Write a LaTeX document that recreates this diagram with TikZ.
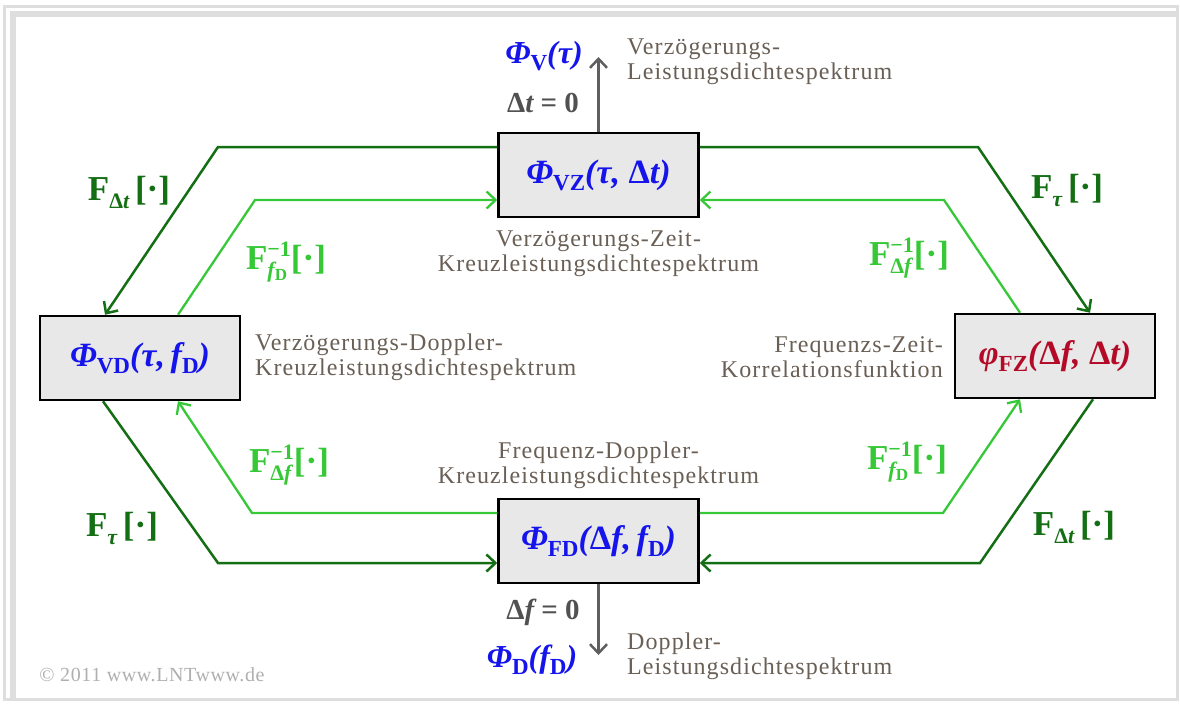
\documentclass[tikz,border=0pt]{standalone}
\usepackage{fontspec}
\setmainfont{Liberation Serif}
\usetikzlibrary{arrows.meta}
\definecolor{dkg}{RGB}{20,110,20}
\definecolor{ltg}{RGB}{55,200,55}
\definecolor{phib}{RGB}{20,20,235}
\definecolor{phir}{RGB}{180,10,40}
\definecolor{desc}{RGB}{105,95,85}
\definecolor{arrg}{RGB}{95,95,95}
\definecolor{boxf}{RGB}{232,232,232}
\definecolor{frm}{RGB}{222,222,222}
\definecolor{cpy}{RGB}{175,175,175}
\newbox\supbx \newbox\subbx
\newcommand\Lsub[1]{\raisebox{-8pt}{\fontsize{22}{22}\selectfont #1}}
\newcommand\Lsup[1]{\raisebox{13pt}{\fontsize{22}{22}\selectfont #1}}
\newcommand\Lss[2]{\setbox\supbx=\hbox{\Lsup{#1}}\setbox\subbx=\hbox{\Lsub{#2}}\ifdim\wd\supbx>\wd\subbx\relax\rlap{\box\subbx}\box\supbx\else\rlap{\box\supbx}\box\subbx\fi}
\newcommand\Dsub[1]{\raisebox{-3pt}{\fontsize{17}{17}\selectfont\upshape #1}}
\newcommand\Bsub[1]{\raisebox{-7pt}{\fontsize{23}{23}\selectfont\upshape #1}}
\tikzset{
  box/.style={draw=black, line width=2.5pt, fill=boxf, minimum width=200pt, minimum height=84pt, inner sep=0pt,
              font=\fontsize{34}{34}\selectfont\bfseries\itshape},
  dk/.style={draw=dkg, line width=2.5pt, -{Straight Barb[length=9pt,width=17pt]}},
  lt/.style={draw=ltg, line width=2.3pt, -{Straight Barb[length=9pt,width=17pt]}},
  gr/.style={draw=arrg, line width=2.5pt, -{Straight Barb[length=9pt,width=17pt]}},
  dsc/.style={text=desc, font=\fontsize{24}{25}\selectfont\addfontfeature{LetterSpace=4.5}, inner sep=0pt},
  flab/.style={font=\fontsize{35}{35}\selectfont\bfseries, inner sep=0pt},
  cond/.style={text=arrg!85!black, font=\fontsize{29}{29}\selectfont\bfseries, inner sep=0pt},
  phil/.style={text=phib, font=\fontsize{32}{32}\selectfont\bfseries\itshape, inner sep=0pt}
}
\begin{document}
\begin{tikzpicture}[x=1pt,y=-1pt]
\useasboundingbox (0,0) rectangle (1180,704);
% frame
\draw[frm, line width=3pt] (4.5,6.5) rectangle (1177.5,699.5);
\draw[frm, line width=6pt] (12.5,699) -- (12.5,13.5) -- (1177,13.5);

% boxes
\node[box, text=phib] (VZ) at (598.5,175) {Φ\Bsub{VZ}(τ, {\upshape Δ}t)};
\node[box, text=phib] (VD) at (140,358) {Φ\Bsub{VD}(τ,\,f\Bsub{D})};
\node[box, text=phir] (FZ) at (1055,356) {φ\Bsub{FZ}({\upshape Δ}f, {\upshape Δ}t)};
\node[box, text=phib] (FD) at (598.5,541) {Φ\Bsub{FD}({\upshape Δ}f,\,f\Bsub{D})};

% end points of the gray arrows
\coordinate (Vend) at (598.5,57);
\coordinate (Dend) at (598.5,655);

% dark green transforms
\draw[dk] ([yshift=28pt]VZ.west) -- (218,147) -- ([xshift=-35pt]VD.north);
\draw[dk] ([yshift=28pt]VZ.east) -- (978,147) -- ([xshift=35pt]FZ.north);
\draw[dk] ([xshift=-37pt]VD.south) -- (218,563) -- ([yshift=-22pt]FD.west);
\draw[dk] ([xshift=38pt]FZ.south) -- (980,563) -- ([yshift=-22pt]FD.east);

% light green inverse transforms
\draw[lt] ([xshift=38pt]VD.north) -- (255,200) -- ([yshift=-25pt]VZ.west);
\draw[lt] ([xshift=-35pt]FZ.north) -- (944,200) -- ([yshift=-25pt]VZ.east);
\draw[lt] ([yshift=28pt]FD.west) -- (252,513) -- ([xshift=38pt]VD.south);
\draw[lt] ([yshift=28pt]FD.east) -- (943,513) -- ([xshift=-35pt]FZ.south);

% gray arrows
\draw[gr] (VZ.north) -- (Vend);
\draw[gr] (FD.south) -- (Dend);

% labels of gray arrows
\node[phil] (PV) at (544,56) {Φ\Bsub{V}(τ)};
\node[cond] (c1) at (543,103) {Δ{\itshape t} = 0};
\node[cond] (c2) at (543,612) {Δ{\itshape f} = 0};
\node[phil] (PD) at (532,660) {Φ\Bsub{D}(f\Bsub{D})};

% descriptions
\node[dsc, anchor=west, align=left] (d1) at (627,62) {Verzögerungs-\\Leistungsdichtespektrum};
\node[dsc, align=center] (d2) at (598.5,254) {Verzögerungs-Zeit-\\Kreuzleistungsdichtespektrum};
\node[dsc, anchor=west, align=left] (d3) at (255,357) {Verzögerungs-Doppler-\\Kreuzleistungsdichtespektrum};
\node[dsc, anchor=east, align=right] (d4) at (943,357) {Frequenzs-Zeit-\\Korrelationsfunktion};
\node[dsc, align=center] (d5) at (598.5,465) {Frequenz-Doppler-\\Kreuzleistungsdichtespektrum};
\node[dsc, anchor=west, align=left] (d6) at (627,656) {Doppler-\\Leistungsdichtespektrum};

% transform labels
\node[flab, text=dkg] (l1) at (129,192) {F\Lsub{Δ\itshape t}\,[·]};
\node[flab, text=dkg] (l2) at (1067,190) {F\Lsub{\itshape τ}\,[·]};
\node[flab, text=dkg] (l3) at (122,528) {F\Lsub{\itshape τ}\,[·]};
\node[flab, text=dkg] (l4) at (1074,527) {F\Lsub{Δ\itshape t}\,[·]};
\node[flab, text=ltg] (l5) at (286,262) {F\Lss{−1}{\itshape f\Dsub{D}}[·]};
\node[flab, text=ltg] (l6) at (909,258) {F\Lss{−1}{Δ\itshape f}[·]};
\node[flab, text=ltg] (l7) at (289,465) {F\Lss{−1}{Δ\itshape f}[·]};
\node[flab, text=ltg] (l8) at (907,462) {F\Lss{−1}{\itshape f\Dsub{D}}[·]};

% copyright
\node[text=cpy, font=\fontsize{20}{20}\selectfont\addfontfeature{LetterSpace=3}, inner sep=0pt] (cp) at (152,675) {© 2011 www.LNTwww.de};
\end{tikzpicture}
\end{document}
